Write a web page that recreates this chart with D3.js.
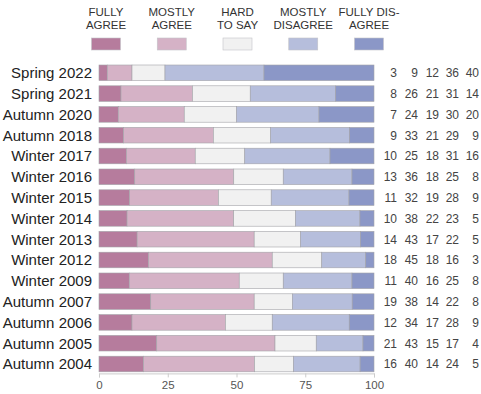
<!DOCTYPE html>
<html lang="en">
<head>
  <meta charset="UTF-8">
  <title>Survey agreement by period</title>
  <script src="https://d3js.org/d3.v7.min.js"></script>
  <style>
    body { margin: 0; background: #fff; font-family: "Liberation Sans", Arial, sans-serif; }
    .axis path, .axis line { stroke: #ccc; }
    .axis text { fill: #555; font-size: 11.5px; }
  </style>
</head>
<body>
<svg width="481" height="394"></svg>

<script>
  const periods = ["Spring 2022", "Spring 2021", "Autumn 2020", "Autumn 2018", "Winter 2017",
                   "Winter 2016", "Winter 2015", "Winter 2014", "Winter 2013", "Winter 2012",
                   "Winter 2009", "Autumn 2007", "Autumn 2006", "Autumn 2005", "Autumn 2004"];
  const keys = ["fullyAgree", "mostlyAgree", "hardToSay", "mostlyDisagree", "fullyDisagree"];
  const legendLabels = [["FULLY", "AGREE"], ["MOSTLY", "AGREE"], ["HARD", "TO SAY"],
                        ["MOSTLY", "DISAGREE"], ["FULLY DIS-", "AGREE"]];
  const fullyAgree     = [3, 8, 7, 9, 10, 13, 11, 10, 14, 18, 11, 19, 12, 21, 16];
  const mostlyAgree    = [9, 26, 24, 33, 25, 36, 32, 38, 43, 45, 40, 38, 34, 43, 40];
  const hardToSay      = [12, 21, 19, 21, 18, 18, 19, 22, 17, 18, 16, 14, 17, 15, 14];
  const mostlyDisagree = [36, 31, 30, 29, 31, 25, 28, 23, 22, 16, 25, 22, 28, 17, 24];
  const fullyDisagree  = [40, 14, 20, 9, 16, 8, 9, 5, 5, 3, 8, 8, 9, 4, 5];
  const xTicks = [0, 25, 50, 75, 100];
  const colors = ["#b67c9d", "#d5b2c6", "#f1f1f1", "#b6bedc", "#8b97c7"];

  const series = [fullyAgree, mostlyAgree, hardToSay, mostlyDisagree, fullyDisagree];
  // shares are scaled so each bar fills 0..100 (rounded rows can sum to 99 or 101)
  const data = periods.map((p, i) => {
    const row = { period: p };
    const total = d3.sum(series, s => s[i]);
    keys.forEach((k, j) => { row[k] = series[j][i] * 100 / total; row[k + "Raw"] = series[j][i]; });
    return row;
  });

  const svg = d3.select("svg");

  const x = d3.scaleLinear().domain([0, 100]).range([99, 374]);
  const y = d3.scaleBand()
              .domain(periods)
              .range([62.4, 374.4])
              .paddingInner(0.25)
              .paddingOuter(0.125);
  const color = d3.scaleOrdinal().domain(keys).range(colors);

  const stacked = d3.stack().keys(keys)(data);

  // Draw bars
  svg.append("g")
    .selectAll("g")
    .data(stacked)
    .join("g")
      .attr("fill", d => color(d.key))
    .selectAll("rect")
    .data(d => d)
    .join("rect")
      .attr("x", d => x(d[0]))
      .attr("y", d => y(d.data.period))
      .attr("width", d => x(d[1]) - x(d[0]))
      .attr("height", y.bandwidth())
      .attr("stroke", "#a3a3a8")
      .attr("stroke-width", 0.6);

  // category labels
  svg.append("g")
    .selectAll("text")
    .data(periods)
    .join("text")
      .attr("x", 92)
      .attr("y", d => y(d) + y.bandwidth() / 2)
      .attr("dy", "0.36em")
      .attr("text-anchor", "end")
      .attr("font-size", 15)
      .attr("fill", "#222")
      .text(d => d);

  // value columns on the right
  const colRight = [397, 418, 439, 459, 479];
  const valueRows = svg.append("g")
    .selectAll("g")
    .data(data)
    .join("g")
      .attr("transform", d => `translate(0,${y(d.period) + y.bandwidth() / 2})`);
  keys.forEach((k, j) => {
    valueRows.append("text")
      .attr("x", colRight[j])
      .attr("dy", "0.36em")
      .attr("text-anchor", "end")
      .attr("font-size", 12)
      .attr("fill", "#444")
      .text(d => d[k + "Raw"]);
  });

  // x-axis
  svg.append("g")
    .attr("class", "axis")
    .attr("transform", `translate(0,${y.range()[1] - 1})`)
    .call(d3.axisBottom(x).tickValues(xTicks).tickSize(4).tickPadding(3));

  // legend
  const legendX = d3.scalePoint().domain(keys).range([106, 369]);
  const legend = svg.append("g")
    .selectAll("g")
    .data(keys)
    .join("g")
      .attr("transform", d => `translate(${legendX(d)},0)`);
  legend.append("rect")
    .attr("x", -14.5)
    .attr("y", 38)
    .attr("width", 29)
    .attr("height", 12)
    .attr("fill", d => color(d))
    .attr("stroke", "#c4c4c8")
    .attr("stroke-width", 0.6);
  legend.each(function(d, i) {
    d3.select(this).selectAll("text")
      .data(legendLabels[i])
      .join("text")
        .attr("y", (t, li) => 16 + li * 13)
        .attr("text-anchor", "middle")
        .attr("font-size", 11.5)
        .attr("fill", "#333")
        .text(t => t);
  });
</script>
</body>
</html>
